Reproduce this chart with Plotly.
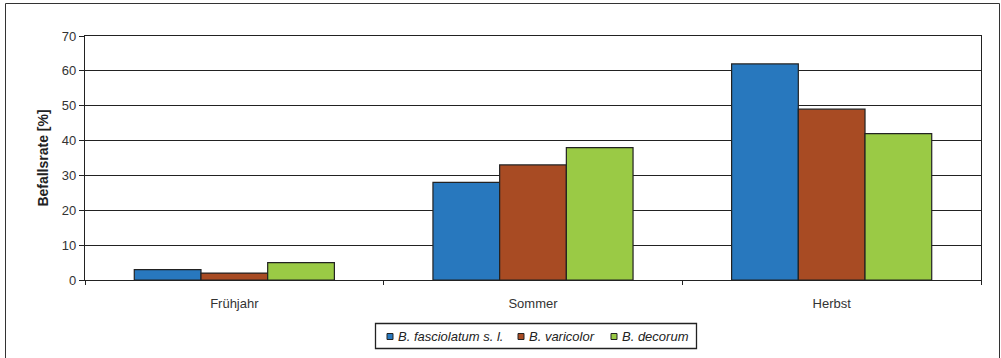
import plotly.graph_objects as go

categories = ["Frühjahr", "Sommer", "Herbst"]
series_names = ["B. fasciolatum s. l.", "B. varicolor", "B. decorum"]
fasciolatum = [3, 28, 62]
varicolor = [2, 33, 49]
decorum = [5, 38, 42]
colors = ["#2878BE", "#A84B23", "#9ACA45"]
y_ticks = [0, 10, 20, 30, 40, 50, 60, 70]

W, H = 1001, 358
L, R, T, B = 85, 981, 36, 280

fig = go.Figure()
for name, vals, col in zip(series_names, [fasciolatum, varicolor, decorum], colors):
    fig.add_trace(go.Bar(
        x=categories, y=vals, name=name,
        marker=dict(color=col, line=dict(color="#222222", width=1.2)),
    ))

pw, ph = R - L, B - T
def px_x(p):
    return (p - L) / pw
def px_y(p):
    return (B - p) / ph

# outer chart frame
fig.add_shape(type="rect", xref="paper", yref="paper",
              x0=px_x(5.5), x1=px_x(999.5), y0=px_y(370), y1=px_y(3.5),
              line=dict(color="#333333", width=1), layer="below")

# legend box, drawn manually
fig.add_shape(type="rect", xref="paper", yref="paper",
              x0=px_x(375.5), x1=px_x(696.5), y0=px_y(348.5), y1=px_y(323.5),
              line=dict(color="#222222", width=1.3), fillcolor="white")
sq_x = [387, 518, 611]
txt_x = [396, 527, 620]
for name, col, sx, tx in zip(series_names, colors, sq_x, txt_x):
    fig.add_shape(type="rect", xref="paper", yref="paper",
                  x0=px_x(sx), x1=px_x(sx + 6), y0=px_y(339.5), y1=px_y(333.5),
                  line=dict(color="#222222", width=1), fillcolor=col)
    fig.add_annotation(
        xref="paper", yref="paper", x=px_x(tx), y=px_y(336.5),
        xanchor="left", yanchor="middle", showarrow=False,
        text=f"<i>{name}</i>",
        font=dict(size=13, color="#222222", family="Liberation Sans, Arial, sans-serif"),
    )

fig.update_layout(
    width=W, height=H,
    margin=dict(l=L, r=W - R, t=T, b=H - B, pad=0, autoexpand=False),
    paper_bgcolor="white", plot_bgcolor="white",
    barmode="group", bargap=0.33, bargroupgap=0,
    font=dict(family="Liberation Sans, Arial, sans-serif", size=13, color="#222222"),
    showlegend=False,
    xaxis=dict(
        showline=True, linecolor="#222222", linewidth=1.2, mirror=True,
        ticks="outside", tickson="boundaries", ticklen=4, tickcolor="#222222",
        showgrid=False, tickfont=dict(size=13, color="#333333"),
        ticklabelstandoff=11,
    ),
    yaxis=dict(
        range=[0, 70], tickvals=y_ticks, showline=True, linecolor="#222222",
        linewidth=1.2, mirror=True, ticks="outside", ticklen=5, tickcolor="#222222",
        showgrid=True, gridcolor="#222222", gridwidth=1.2,
        tickfont=dict(size=13, color="#333333"),
        title=dict(text="<b>Befallsrate [%]</b>", font=dict(size=14, color="#222222"), standoff=9),
        zeroline=False,
    ),
)

fig.write_html("out.html")
